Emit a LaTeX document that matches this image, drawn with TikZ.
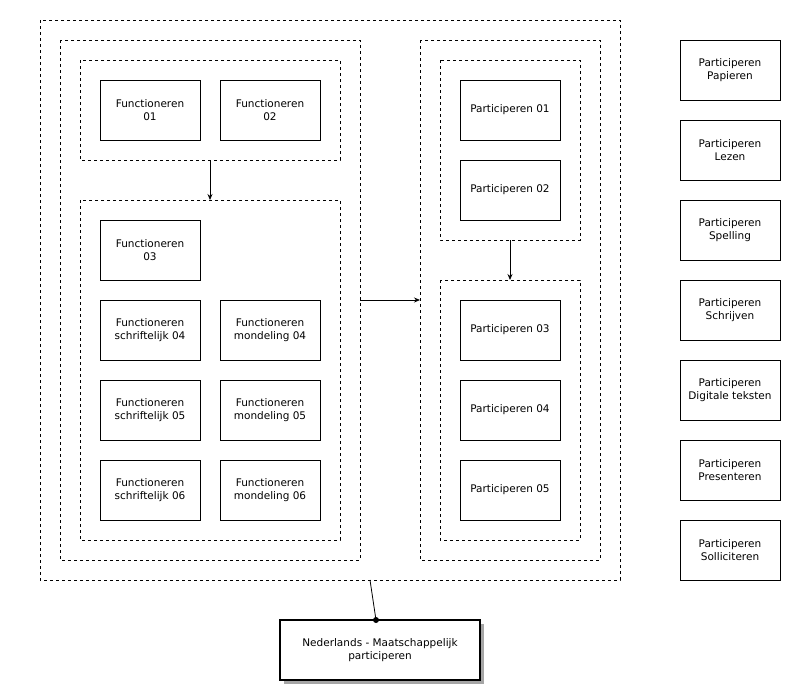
\documentclass[tikz,border=0pt]{standalone}
\usepackage{fontspec}
\setmainfont{DejaVu Sans}
\usetikzlibrary{arrows.meta}
\begin{document}
\begin{tikzpicture}[x=1pt,y=-1pt,
  grp/.style={draw,dashed,line width=0.8pt},
  bx/.style={draw,line width=0.8pt,minimum width=100pt,minimum height=60pt,align=center,font=\fontsize{10.5}{13}\selectfont,inner sep=1pt},
  arr/.style={-{Stealth[length=6pt,width=5pt]},line width=0.8pt}]
\useasboundingbox (0,0) rectangle (785,689);
\draw[grp] (40,20) rectangle (620,580);
\draw[grp] (60,40) rectangle (360,560);
\draw[grp] (80,60) rectangle (340,160);
\draw[grp] (80,200) rectangle (340,540);
\draw[grp] (420,40) rectangle (600,560);
\draw[grp] (440,60) rectangle (580,240);
\draw[grp] (440,280) rectangle (580,540);
\coordinate (lt) at (210,160); \coordinate (lb) at (210,200);
\coordinate (rt) at (510,240); \coordinate (rb) at (510,280);
\coordinate (lg) at (360,300); \coordinate (rg) at (420,300);
\coordinate (og) at (370,580);
\node[bx] (f1) at (150,110) {Functioneren\\01};
\node[bx] (f2) at (270,110) {Functioneren\\02};
\node[bx] (f3) at (150,250) {Functioneren\\03};
\node[bx] (s4) at (150,330) {Functioneren\\schriftelijk 04};
\node[bx] (m4) at (270,330) {Functioneren\\mondeling 04};
\node[bx] (s5) at (150,410) {Functioneren\\schriftelijk 05};
\node[bx] (m5) at (270,410) {Functioneren\\mondeling 05};
\node[bx] (s6) at (150,490) {Functioneren\\schriftelijk 06};
\node[bx] (m6) at (270,490) {Functioneren\\mondeling 06};
\node[bx] (p1) at (510,110) {Participeren 01};
\node[bx] (p2) at (510,190) {Participeren 02};
\node[bx] (p3) at (510,330) {Participeren 03};
\node[bx] (p4) at (510,410) {Participeren 04};
\node[bx] (p5) at (510,490) {Participeren 05};
\node[bx] (a1) at (730,70) {Participeren\\Papieren};
\node[bx] (a2) at (730,150) {Participeren\\Lezen};
\node[bx] (a3) at (730,230) {Participeren\\Spelling};
\node[bx] (a4) at (730,310) {Participeren\\Schrijven};
\node[bx] (a5) at (730,390) {Participeren\\Digitale teksten};
\node[bx] (a6) at (730,470) {Participeren\\Presenteren};
\node[bx] (a7) at (730,550) {Participeren\\Solliciteren};
\fill[gray!70] (284,624) rectangle (484,684);
\node[bx,fill=white,line width=1.6pt,minimum width=200pt] (nm) at (380,650) {Nederlands - Maatschappelijk\\participeren};
\draw[arr] (lt) -- (lb);
\draw[arr] (rt) -- (rb);
\draw[arr] (lg) -- (rg);
\coordinate (nt) at (376,620);
\draw[line width=0.8pt] (og) -- (nt);
\fill (nt) circle (3pt);
\end{tikzpicture}
\end{document}
